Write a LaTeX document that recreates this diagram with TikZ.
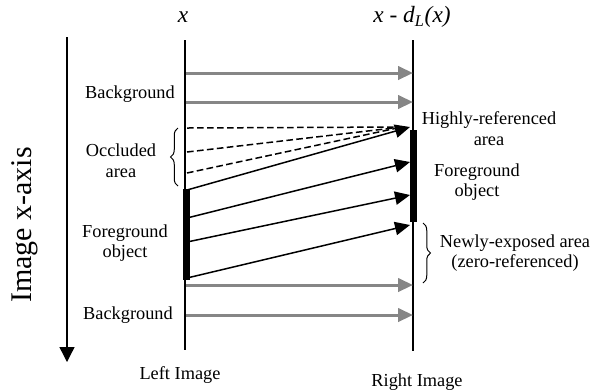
\documentclass[tikz,border=0pt]{standalone}
\usepackage{fontspec}
\setmainfont{Liberation Serif}
\usetikzlibrary{arrows.meta, positioning, decorations.pathreplacing}
\definecolor{arrowgray}{HTML}{868686}

\begin{document}
\begin{tikzpicture}[x=0.6pt, y=-0.6pt,
    lbl/.style={font=\fontsize{11}{12.5}\selectfont, align=center, inner sep=0pt},
    head/.style={font=\fontsize{14}{16}\selectfont\itshape, inner sep=0pt},
    imgline/.style={line width=0.7pt},
    fgbar/.style={line width=4.2pt},
    bgarrow/.style={-{Triangle[length=9pt, width=8pt]}, line width=1.8pt, arrowgray},
    fgarrow/.style={-{Triangle[length=9pt, width=8pt]}, line width=0.9pt},
    occl/.style={dash pattern=on 4pt off 2pt, line width=0.9pt},
    brc/.style={decorate, decoration={brace, amplitude=4.5pt}, line width=0.6pt}]
  \useasboundingbox (0,0) rectangle (593,391);

  % left and right image lines
  \coordinate (Ltop) at (185,40);
  \coordinate (Lbot) at (185,350);
  \coordinate (Rtop) at (413,40);
  \coordinate (Rbot) at (413,351);
  \draw[imgline] (Ltop) -- (Lbot);
  \draw[imgline] (Rtop) -- (Rbot);

  % foreground object segments
  \coordinate (LfgA) at (186,189);
  \coordinate (LfgB) at (186,280);
  \coordinate (RfgA) at (413.5,130);
  \coordinate (RfgB) at (413.5,222);
  \draw[fgbar] (LfgA) -- (LfgB);
  \draw[fgbar] (RfgA) -- (RfgB);

  % background correspondences
  \foreach \n/\y in {a/73, b/102, c/285, d/315}{
    \coordinate (bgL\n) at (186,\y);
    \coordinate (bgR\n) at (413,\y);
    \draw[bgarrow] (bgL\n) -- (bgR\n);
  }

  % occluded area
  \coordinate (hit) at (402,127);
  \foreach \n/\y in {a/128, b/152, c/173}{
    \coordinate (ocL\n) at (187,\y);
    \draw[occl] (ocL\n) -- (hit);
  }

  % foreground correspondences
  \foreach \n/\yl/\yr in {a/190/127, b/218/162, c/242/195, d/278/225}{
    \coordinate (fgL\n) at (187,\yl);
    \coordinate (fgR\n) at (410,\yr);
    \draw[fgarrow] (fgL\n) -- (fgR\n);
  }

  % image x-axis
  \coordinate (axtop) at (67,37);
  \coordinate (axbot) at (67,362);
  \draw[-{Triangle[length=9pt, width=9pt]}, line width=0.8pt] (axtop) -- (axbot);
  \node[rotate=90, font=\fontsize{18}{20}\selectfont, inner sep=0pt] (axislbl) at (25,225) {Image x-axis};

  % braces
  \coordinate (brLa) at (178,186);
  \coordinate (brLb) at (178,128);
  \coordinate (brRa) at (423,223);
  \coordinate (brRb) at (423,283);
  \draw[brc] (brLa) -- (brLb);
  \draw[brc] (brRa) -- (brRb);

  % labels
  \node[head] (xlbl) at (183,17) {x};
  \node[head] (xdlbl) at (412,17) {x - d\textsubscript{L}(x)};
  \node[lbl] (bgtop) at (130,94) {Background};
  \node[lbl] (occlbl) at (121,161) {Occluded\\area};
  \node[lbl] (fgleft) at (125,243) {Foreground\\object};
  \node[lbl] (bgbot) at (128,315) {Background};
  \node[lbl] (leftimg) at (180,375) {Left Image};
  \node[lbl] (rightimg) at (417,382) {Right Image};
  \node[lbl] (highref) at (489,129) {Highly-referenced\\area};
  \node[lbl] (fgright) at (477,182) {Foreground\\object};
  \node[lbl] (newexp) at (515,253) {Newly-exposed area\\(zero-referenced)};
\end{tikzpicture}
\end{document}
